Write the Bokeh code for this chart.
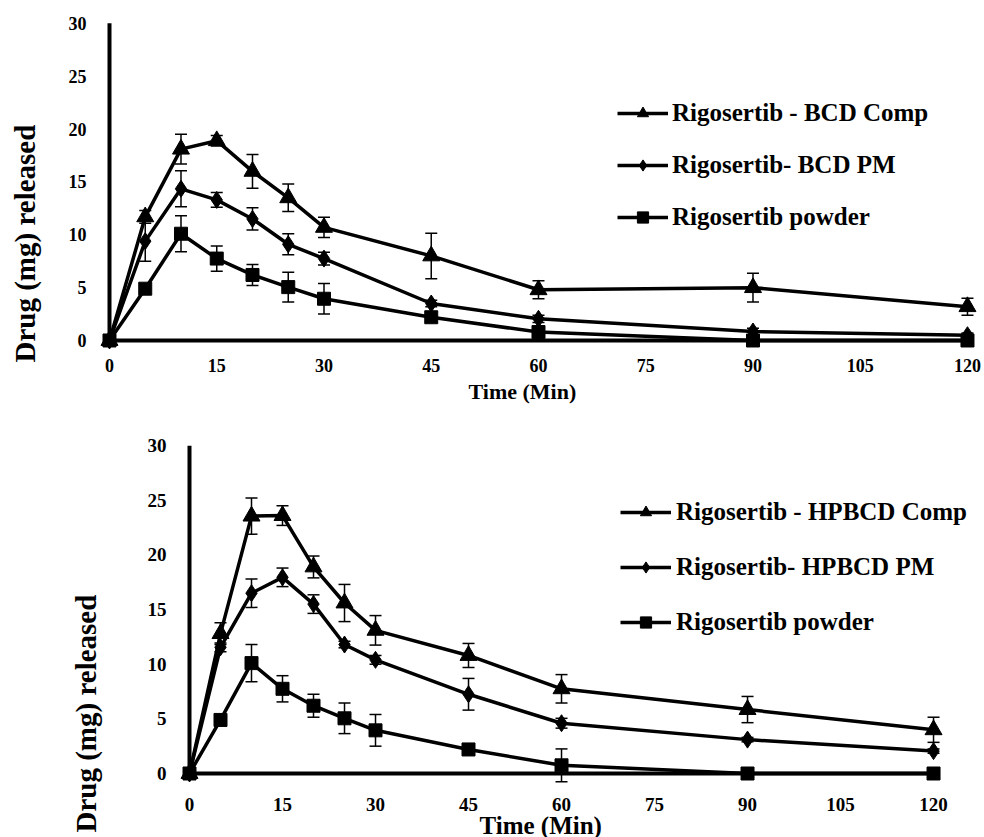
from bokeh.plotting import figure
from bokeh.models import (ColumnDataSource, Whisker, TeeHead, Legend, LegendItem,
                          Title, FixedTicker, Range1d)
from bokeh.embed import file_html
from bokeh.resources import INLINE

# ---------------- data ----------------
time_min = [0, 5, 10, 15, 20, 25, 30, 45, 60, 90, 120]
x_ticks = [0, 15, 30, 45, 60, 75, 90, 105, 120]
y_ticks = [0, 5, 10, 15, 20, 25, 30]

# top panel (BCD)
bcd_comp = [0, 11.7, 18.1, 18.9, 16.0, 13.5, 10.7, 8.0, 4.8, 5.0, 3.2]
bcd_comp_err = [0, 0.6, 1.4, 0.5, 1.6, 1.3, 0.95, 2.15, 0.85, 1.35, 0.8]
bcd_pm = [0, 9.4, 14.35, 13.3, 11.5, 9.1, 7.75, 3.5, 2.05, 0.85, 0.5]
bcd_pm_err = [0, 1.9, 1.7, 0.7, 1.05, 1.0, 0.6, 0.3, 0.35, 0.3, 0.2]
powder_a = [0, 4.9, 10.1, 7.75, 6.2, 5.05, 3.95, 2.2, 0.8, 0.0, 0.0]
powder_a_err = [0, 0, 1.7, 1.2, 1.0, 1.4, 1.45, 0.2, 0.3, 0, 0]

# bottom panel (HPBCD)
hpbcd_comp = [0, 12.8, 23.55, 23.6, 18.9, 15.6, 13.1, 10.8, 7.75, 5.85, 4.0]
hpbcd_comp_err = [0, 1.0, 1.65, 0.9, 1.0, 1.7, 1.35, 1.1, 1.3, 1.2, 1.15]
hpbcd_pm = [0, 11.55, 16.5, 17.95, 15.5, 11.8, 10.4, 7.25, 4.6, 3.1, 2.05]
hpbcd_pm_err = [0, 0.4, 1.3, 0.85, 0.85, 0.3, 0.4, 1.45, 0.45, 0.2, 0.2]
powder_b = [0, 4.9, 10.1, 7.75, 6.2, 5.05, 3.95, 2.2, 0.75, 0.0, 0.0]
powder_b_err = [0, 0, 1.7, 1.2, 1.05, 1.4, 1.45, 0.2, 1.5, 0, 0]

labels_top = ["Rigosertib - BCD Comp", "Rigosertib- BCD PM", "Rigosertib powder"]
labels_bot = ["Rigosertib - HPBCD Comp", "Rigosertib- HPBCD PM", "Rigosertib powder"]

FONT = "Liberation Serif"


def make_panel(series, labels, cfg):
    p = figure(frame_width=cfg["fw"], frame_height=cfg["fh"],
               min_border_left=cfg["bl"], min_border_right=0,
               min_border_top=cfg["bt"], min_border_bottom=cfg["bb"],
               x_range=Range1d(cfg["x0"], cfg["x1"]), y_range=Range1d(cfg["y0"], cfg["y1"]),
               output_backend="svg", toolbar_location=None)
    if cfg["shift"]:
        p.margin = (0, 0, 0, -cfg["shift"])
    p.outline_line_color = None
    p.grid.visible = False
    p.background_fill_color = "white"
    p.border_fill_color = "white"

    for ax in (p.xaxis[0], p.yaxis[0]):
        ax.axis_line_color = None
        ax.major_tick_line_color = None
        ax.minor_tick_line_color = None
        ax.major_label_text_font = FONT
        ax.major_label_text_font_style = "bold"
        ax.major_label_text_font_size = cfg["tick_fs"]
        ax.major_label_text_color = "black"
    p.xaxis[0].ticker = FixedTicker(ticks=x_ticks)
    p.yaxis[0].ticker = FixedTicker(ticks=y_ticks)
    p.xaxis[0].major_label_standoff = cfg["xs"]
    p.yaxis[0].major_label_standoff = cfg["ys"]

    # axis lines
    p.segment(x0=[x_ticks[0]], y0=[y_ticks[0]], x1=[x_ticks[-1]], y1=[y_ticks[0]],
              line_color="black", line_width=4)
    p.segment(x0=[x_ticks[0]], y0=[y_ticks[0]], x1=[x_ticks[0]], y1=[y_ticks[-1]],
              line_color="black", line_width=4)

    markers = [("triangle", 17), ("diamond", 17), ("square", 13)]
    items = []
    for (vals, errs), (mk, sz), lab in zip(series, markers, labels):
        src = ColumnDataSource(dict(x=time_min, y=vals))
        lr = p.line("x", "y", source=src, line_color="black", line_width=3.5)
        sr = p.scatter("x", "y", source=src, marker=mk, size=sz,
                       fill_color="black", line_color="black")
        items.append(LegendItem(label=lab, renderers=[lr, sr]))
        xs, up, lo = [], [], []
        for t, v, e in zip(time_min, vals, errs):
            if e > 0:
                xs.append(t)
                up.append(v + e)
                lo.append(v - e)
        wsrc = ColumnDataSource(dict(base=xs, upper=up, lower=lo))
        w = Whisker(base="base", upper="upper", lower="lower", source=wsrc,
                    line_color="black", line_width=1.5,
                    upper_head=TeeHead(size=12, line_width=1.5, line_color="black"),
                    lower_head=TeeHead(size=12, line_width=1.5, line_color="black"))
        p.add_layout(w)

    leg = Legend(items=items, location=cfg["leg_loc"], orientation="vertical",
                 glyph_width=51, glyph_height=28, label_height=28,
                 label_standoff=cfg["leg_so"], spacing=cfg["leg_sp"],
                 padding=0, margin=0,
                 border_line_alpha=0, background_fill_alpha=0,
                 label_text_font=FONT, label_text_font_style="bold",
                 label_text_font_size="25px", label_text_color="black")
    p.add_layout(leg)

    p.add_layout(Title(text="Time (Min)", align="left", offset=cfg["xt_off"],
                       standoff=cfg["xt_so"], text_font=FONT, text_font_style="bold",
                       text_font_size=cfg["xt_fs"], text_color="black"), "below")
    p.add_layout(Title(text="Drug (mg) released", align="left", offset=cfg["yt_off"],
                       standoff=cfg["yt_so"], vertical_align=cfg["yt_va"],
                       text_font=FONT, text_font_style="bold",
                       text_font_size="29px", text_color="black"), "left")
    return p


top_cfg = dict(fw=886, fh=332, bl=118, bt=18, bb=65, shift=20,
               x0=-1.538, x1=122.38, y0=-0.946, y1=30.46,
               tick_fs="18px", xs=2, ys=6,
               leg_loc=(519, 119), leg_so=4, leg_sp=24,
               xt_off=370, xt_so=4, xt_fs="22px", yt_off=-12, yt_so=46, yt_va="top")
bot_cfg = dict(fw=805, fh=343, bl=179, bt=25, bb=54, shift=0,
               x0=-1.613, x1=128.22, y0=-0.915, y1=30.47,
               tick_fs="19px", xs=8, ys=7,
               leg_loc=(441, 147), leg_so=5, leg_sp=27,
               xt_off=300, xt_so=-8, xt_fs="25px", yt_off=-49, yt_so=85, yt_va="bottom")

p1 = make_panel([(bcd_comp, bcd_comp_err), (bcd_pm, bcd_pm_err), (powder_a, powder_a_err)],
                labels_top, top_cfg)
p2 = make_panel([(hpbcd_comp, hpbcd_comp_err), (hpbcd_pm, hpbcd_pm_err), (powder_b, powder_b_err)],
                labels_bot, bot_cfg)

open("out.html", "w").write(file_html([p1, p2], INLINE))
